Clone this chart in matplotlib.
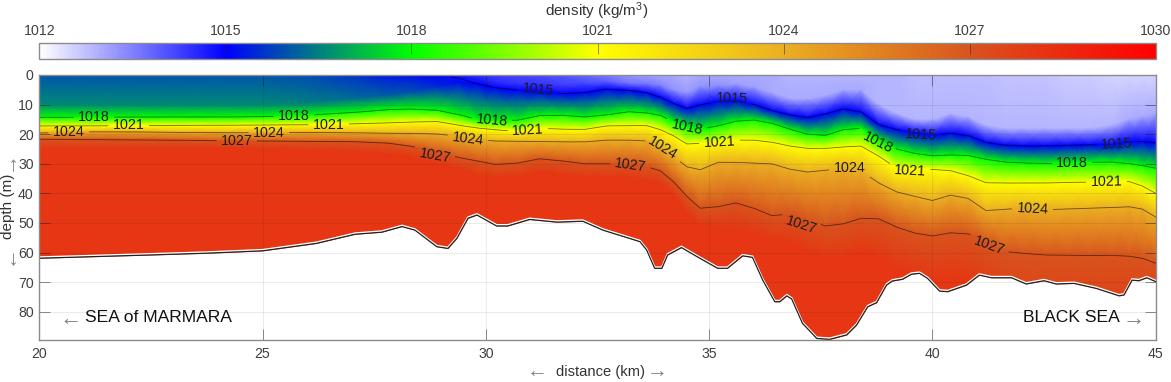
import numpy as np
import matplotlib
matplotlib.use("Agg")
import matplotlib.pyplot as plt
from matplotlib.colors import LinearSegmentedColormap, Normalize
from matplotlib.cm import ScalarMappable

plt.rcParams['font.family'] = ['Liberation Sans', 'DejaVu Sans']
plt.rcParams['mathtext.default'] = 'regular'

# ---------- data ----------
stations = [20, 21, 22, 23, 24, 25, 26, 27, 27.8, 28.3, 28.9, 29.4, 29.8, 30.2, 30.7, 31.2, 31.7, 32.2, 32.7, 33.2,
            33.6, 33.9, 34.2, 34.5, 34.8, 35.2, 35.6, 36, 36.4, 36.8, 37.2, 37.6, 38, 38.4, 38.8, 39.2, 39.6, 40,
            40.4, 40.8, 41.2, 41.6, 42, 42.5, 43, 43.5, 44, 44.4, 44.7, 45]
surface_rho = [1016, 1016, 1016, 1016, 1016, 1016, 1015.9, 1015.6, 1015.3, 1015.2, 1015.05, 1014.8, 1014.5, 1014.3,
               1014.2, 1014.1, 1014, 1013.8, 1013.5, 1013.2, 1013.1, 1013, 1013, 1012.9, 1013, 1013, 1013, 1013,
               1013, 1012.9, 1012.9, 1012.9, 1012.9, 1012.9, 1012.9, 1012.9, 1012.8, 1012.8, 1012.8, 1012.8,
               1012.8, 1012.7, 1012.7, 1012.7, 1012.6, 1012.6, 1012.5, 1012.5, 1012.5, 1012.5]
upper_rho = [1016.6, 1016.6, 1016.6, 1016.6, 1016.6, 1016.6, 1016.5, 1016.3, 1016.1, 1016, 1015.5, 1015.1, 1014.7,
             1014.5, 1014.4, 1014.4, 1014.3, 1014.2, 1014, 1013.7, 1013.6, 1013.5, 1013.3, 1013.2, 1013.3, 1013.3,
             1013.1, 1013.1, 1013, 1013, 1013, 1013, 1013, 1013, 1012.9, 1012.9, 1012.9, 1012.9, 1012.9, 1012.9,
             1012.9, 1012.9, 1012.9, 1012.9, 1012.9, 1012.9, 1012.9, 1013, 1013, 1013]
upper_depth = [10, 10, 10, 10, 10, 10, 9.5, 8, 7, 6, 4, 2.5, 1.5, 2.5, 3, 3, 3.5, 3, 2.5, 3, 3, 3.5, 5, 6, 4, 3.5, 3,
               4, 6, 8, 8, 7, 5, 5, 10, 13, 15, 15, 13, 14, 17, 18, 18, 18, 18, 18, 17, 15, 14, 13]
d1015 = [0, 0, 0, 0, 0, 0, 0, 0, 0, 0, 0, 1.1, 3, 4.3, 5.1, 5.6, 6.3, 6, 4.8, 5.2, 6, 7.5, 9.6, 11.3, 10.1, 9, 8.6,
         10, 12, 13.5, 14.4, 13.2, 11.5, 12.5, 16.8, 18.5, 19.5, 20.3, 19.7, 20.5, 22.8, 23.7, 24, 24, 23.8, 23.6,
         23.6, 22.5, 22.5, 22.9]
d1018 = [14.3, 14.3, 14.2, 14.2, 14.2, 14.1, 13.6, 12.7, 11.7, 11.5, 11.9, 13.4, 15, 15.3, 15.3, 13.7, 13.6, 14.2,
         13.5, 12.4, 12.8, 13.6, 15.8, 17.5, 18.3, 17.2, 15.6, 15.2, 16.3, 18.3, 20, 20.4, 18.5, 18, 22, 25, 26.5,
         27.3, 27, 27.2, 28.5, 29.4, 29.7, 29.9, 29.8, 29.5, 29.4, 29.9, 30.6, 31.5]
d1021 = [17.2, 17.2, 17.1, 17, 17, 16.9, 16.8, 16.5, 16.2, 15.9, 15.7, 17, 17.9, 18.5, 19, 18, 18.3, 18.4, 17.2,
         17.1, 17.1, 18.4, 20.5, 23.3, 23.1, 22.6, 22, 22, 22.7, 24, 24.8, 24.8, 24.3, 24, 27.4, 31.5, 31.7, 31.9,
         32.3, 34, 36.4, 36.5, 36.5, 36.5, 36.3, 36.2, 36.1, 36, 37.5, 40]
d1024 = [19.6, 19.2, 19.2, 19.4, 19.5, 19.5, 19.4, 19.5, 19.7, 19.7, 19.9, 20.7, 21.8, 22.3, 22.4, 22.5, 22.6, 22.6,
         22, 22, 22.3, 24.5, 27.5, 31, 32, 29.5, 29.5, 29.8, 30, 31.8, 32.8, 32.2, 31.5, 32.4, 36.5, 39.5, 41, 42.4,
         40.6, 41.7, 45.8, 45.4, 45, 45.5, 45.3, 45, 44.8, 44.5, 45.3, 48]
d1027 = [21.7, 21.8, 21.9, 22, 22.2, 22.3, 22.4, 22.5, 23, 24, 26, 27.9, 29, 30.2, 29.8, 28.3, 29, 30, 30, 30, 31,
         32.3, 36, 41, 45, 44.5, 43.2, 45, 47.5, 47, 49, 51, 50.3, 48.4, 48.6, 51.4, 53.4, 54.4, 53.3, 53.7, 56.5,
         59.6, 60.2, 60.8, 60.9, 61, 60.9, 61.2, 61.9, 63.6]
deep_depth = [25, 25, 25, 25, 25, 25, 25.5, 26, 27, 28, 30, 32, 34, 35, 35, 33, 34, 35, 35, 35, 36, 37, 41, 47, 51,
              52, 52, 54, 56, 57, 60, 62, 62, 60, 62, 66, 68, 70, 69, 70, 74, 78, 85, 85, 85, 85, 85, 85, 85, 85]
deep_rho = 1028.1
floor_depth = 95

bottom_km = [20, 22.48, 23.75, 25, 26.2, 27.07, 27.67, 28.12, 28.41, 28.9, 29.15, 29.35, 29.6, 29.8, 30.24, 30.49,
             30.98, 31.59, 32.17, 32.62, 33.45, 33.6, 33.78, 33.94, 34.07, 34.38, 34.79, 35.19, 35.41, 35.75, 35.97,
             36.2, 36.47, 36.58, 36.74, 36.85, 37.09, 37.41, 37.7, 38.08, 38.3, 38.55, 38.75, 38.97, 39.1, 39.33,
             39.53, 39.71, 39.89, 40.16, 40.34, 40.76, 41.05, 41.32, 41.77, 42.1, 42.5, 42.77, 43.17, 43.67, 44.18,
             44.29, 44.47, 44.62, 44.8, 45]
bottom_depth = [61.9, 60.8, 60.2, 59.4, 56.9, 53.8, 53.1, 51.2, 52.4, 58, 58.6, 55.2, 48.4, 47.3, 51, 51, 48.8, 49.7,
                49.4, 52.4, 56.3, 59.1, 65.3, 65.3, 60.8, 58.3, 61.9, 65.3, 65.3, 61.1, 61.6, 69.3, 76.6, 76.6, 74.6,
                75.7, 83.9, 89, 89.3, 87.8, 84.5, 78.3, 76.9, 71, 69.6, 69, 67.3, 67, 68.7, 73, 73.2, 71, 67.6, 68.5,
                68.5, 70.6, 69.5, 70.6, 70.4, 72.1, 74.6, 74.3, 69.3, 69.5, 68.5, 69.8]

levels = [1015, 1018, 1021, 1024, 1027]
label_x = {1015: [31.16, 35.5, 39.74, 44.12],
           1018: [21.22, 25.7, 30.13, 34.5, 38.77, 43.13],
           1021: [22.0, 26.48, 30.94, 35.23, 39.5, 43.9],
           1024: [20.66, 25.14, 29.6, 33.96, 38.14, 42.24],
           1027: [24.42, 28.86, 33.24, 37.07, 41.28]}
label_d = {1015: [5.1, 7.8, 20.2, 23.3],
           1018: [14.2, 13.8, 15.5, 17.8, 22.9, 29.7],
           1021: [16.9, 16.8, 18.6, 22.7, 32.3, 36.0],
           1024: [19.1, 19.5, 21.6, 24.8, 31.5, 45.3],
           1027: [22.3, 27.4, 30.6, 50.7, 57.8]}
label_rot = {1015: [-6, -2, -3, 3],
             1018: [0, 0, -5, -12, -27, 0],
             1021: [0, 0, 3, 3, -3, 1],
             1024: [0, 0, -7, -32, 0, -3],
             1027: [0, -10, -8, -18, -20]}

cb_ticks = [1012, 1015, 1018, 1021, 1024, 1027, 1030]
x_ticks = [20, 25, 30, 35, 40, 45]
y_ticks = [0, 10, 20, 30, 40, 50, 60, 70, 80]
cmap_rho = [1012, 1015, 1018, 1021, 1024, 1027, 1030]
cmap_colors = ['#ffffff', '#0000ff', '#00ff00', '#ffff00', '#ebaf23', '#d7551e', '#ff0000']

# ---------- figure ----------
W, H = 1171, 382
fig = plt.figure(figsize=(W / 100, H / 100), dpi=100)
def fx(p): return p / W
def fy(p): return 1 - p / H

L, R, T, B = 39.3, 1155.7, 75, 340
ax = fig.add_axes([fx(L), fy(B), (R - L) / W, (B - T) / H])
cax = fig.add_axes([fx(L), fy(59.3), (R - L) / W, 16 / H])

norm = Normalize(cmap_rho[0], cmap_rho[-1])
cmap = LinearSegmentedColormap.from_list(
    'density', [((r - cmap_rho[0]) / (cmap_rho[-1] - cmap_rho[0]), c) for r, c in zip(cmap_rho, cmap_colors)], N=720)

st = np.array(stations, float)
n = len(st)
upper_rho_a = np.array(upper_rho)
upper_depth_a = np.array(upper_depth, float)
rows_depth = [np.zeros(n), upper_depth_a, np.maximum(d1015, upper_depth_a), np.array(d1018), np.array(d1021),
              np.array(d1024), np.array(d1027), np.array(deep_depth, float), np.full(n, float(floor_depth))]
rows_rho = [np.array(surface_rho), upper_rho_a, np.maximum(1015, upper_rho_a), np.full(n, 1018.), np.full(n, 1021.),
            np.full(n, 1024.), np.full(n, 1027.), np.full(n, deep_rho), np.full(n, deep_rho)]
Y = np.vstack(rows_depth)
C = np.vstack(rows_rho)
X = np.tile(st, (Y.shape[0], 1))
ax.pcolormesh(X, Y, C, shading='gouraud', cmap=cmap, norm=norm, zorder=1, rasterized=True)

# seabed
ax.fill_between(bottom_km, bottom_depth, floor_depth, color='white', lw=0, zorder=2)
ax.plot(bottom_km, np.array(bottom_depth) - 0.35, color='white', lw=1.3, zorder=3)
ax.plot(bottom_km, bottom_depth, color='#222222', lw=0.9, zorder=4)

# isopycnals with gaps at their labels
lines = {1015: d1015, 1018: d1018, 1021: d1021, 1024: d1024, 1027: d1027}
for lev in levels:
    xf = np.linspace(20, 45, 3000)
    yf = np.interp(xf, st, lines[lev])
    for lx, rot in zip(label_x[lev], label_rot[lev]):
        yf[np.abs(xf - lx) < 0.46 * np.cos(np.radians(rot))] = np.nan
    if lev == 1015:
        yf[xf < 29.2] = np.nan
    ax.plot(xf, yf, color='k', lw=0.6, alpha=0.55, zorder=5)
    for lx, ld, rot in zip(label_x[lev], label_d[lev], label_rot[lev]):
        ax.text(lx, ld, str(lev), rotation=rot, rotation_mode='anchor', ha='center', va='center',
                fontsize=10.3, color='#1c1c1c', zorder=6)

ax.set_xlim(20, 45)
ax.set_ylim((B - T) / 2.96, 0)
ax.set_xticks(x_ticks)
ax.set_yticks(y_ticks)
ax.set_axisbelow(False)
ax.grid(True, color='#262626', alpha=0.09, lw=0.8)
tick_c = (0.15, 0.15, 0.15, 0.6)
ax.tick_params(axis='both', direction='in', length=8, width=0.6, color=tick_c, top=True, right=True,
               labelsize=10.2, labelcolor='#404040', pad=4)
ax.tick_params(axis='x', pad=5)
for s in ax.spines.values():
    s.set_color('#8c8c8c')
    s.set_linewidth(1.0)
    s.set_zorder(8)

# colour bar
cb = fig.colorbar(ScalarMappable(norm=norm, cmap=cmap), cax=cax, orientation='horizontal')
cb.set_ticks(cb_ticks)
cax.xaxis.set_ticks_position('top')
cax.tick_params(axis='x', direction='in', length=8, width=0.6, color=tick_c, labelsize=10.2, labelcolor='#404040', pad=4)
cb.outline.set_edgecolor('#8c8c8c')
cb.outline.set_linewidth(1.0)
fig.text(fx(597), fy(11), 'density (kg/m$^{3}$)', ha='center', va='center', fontsize=11, color='#333333')

# axis titles with pale arrows
arrow_c = '#808080'
fig.text(fx(600.5), fy(372), 'distance (km)', ha='center', va='center', fontsize=10.6, color='#333333')
fig.text(fx(537), fy(372), '\u2190', ha='center', va='center', fontsize=15, color=arrow_c)
fig.text(fx(657), fy(372), '\u2192', ha='center', va='center', fontsize=15, color=arrow_c)
fig.text(fx(8), fy(206), 'depth (m)', rotation=90, ha='center', va='center', fontsize=11, color='#333333')
fig.text(fx(8), fy(255), '\u2190', rotation=90, ha='center', va='center', fontsize=15, color=arrow_c)
fig.text(fx(8), fy(161), '\u2192', rotation=90, ha='center', va='center', fontsize=15, color=arrow_c)

# sea names
fig.text(fx(85), fy(318), 'SEA of MARMARA', ha='left', va='center', fontsize=12.6, color='#111111')
fig.text(fx(71), fy(319), '\u2190', ha='center', va='center', fontsize=16, color=arrow_c)
fig.text(fx(1120), fy(318), 'BLACK SEA', ha='right', va='center', fontsize=12.6, color='#111111')
fig.text(fx(1134), fy(319), '\u2192', ha='center', va='center', fontsize=16, color=arrow_c)

fig.savefig('out.png', dpi=100)
